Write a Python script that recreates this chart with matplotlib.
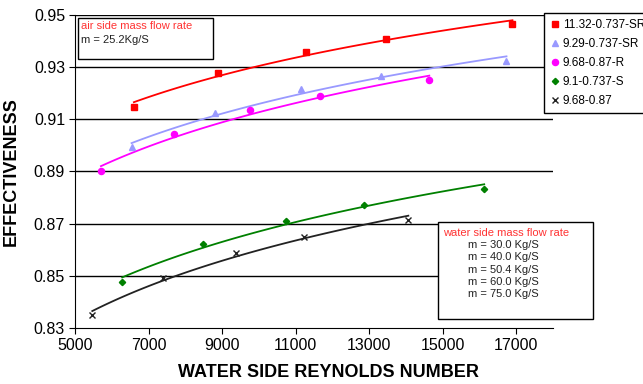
import numpy as np
import matplotlib.pyplot as plt
from matplotlib.patches import Rectangle

plt.rcParams['font.family'] = ['Liberation Sans', 'DejaVu Sans']

# Reynolds number vs effectiveness for each tube configuration
labels = ['11.32-0.737-SR', '9.29-0.737-SR', '9.68-0.87-R', '9.1-0.737-S', '9.68-0.87']
re_sr1132 = [6590, 8880, 11264, 13465, 16897]
eff_sr1132 = [0.9149, 0.9279, 0.9359, 0.9408, 0.9464]
re_sr929 = [6527, 8791, 11147, 13329, 16734]
eff_sr929 = [0.8992, 0.9126, 0.9215, 0.9266, 0.9324]
re_r968 = [5693, 7685, 9742, 11644, 14633]
eff_r968 = [0.8903, 0.9044, 0.9135, 0.9188, 0.9250]
re_s91 = [6272, 8473, 10739, 12848, 16128]
eff_s91 = [0.8477, 0.8621, 0.8712, 0.8772, 0.8833]
re_968 = [5457, 7387, 9361, 11217, 14062]
eff_968 = [0.8351, 0.8491, 0.8589, 0.8648, 0.8715]

water_flows = ['30.0', '40.0', '50.4', '60.0', '75.0']
xticks = [5000, 7000, 9000, 11000, 13000, 15000, 17000]
yticks = [0.83, 0.85, 0.87, 0.89, 0.91, 0.93, 0.95]

series = [
    (re_sr1132, eff_sr1132, '#ff0000', 's', 4.6),
    (re_sr929, eff_sr929, '#9999ff', '^', 4.2),
    (re_r968, eff_r968, '#ff00ff', 'o', 4.4),
    (re_s91, eff_s91, '#008000', 'D', 3.2),
    (re_968, eff_968, '#222222', 'x', 5),
]

fig = plt.figure(figsize=(6.43, 3.84), dpi=100)
ax = fig.add_axes([0.1174, 0.1458, 0.7426, 0.8152])

for (x, y, c, m, ms), lab in zip(series, labels):
    x = np.array(x, dtype=float)
    y = np.array(y, dtype=float)
    # logarithmic trendline through the points
    k, b = np.polyfit(np.log(x), y, 1)
    xs = np.linspace(x.min(), x.max(), 100)
    ax.plot(xs, k * np.log(xs) + b, color=c, lw=1.3, zorder=3)
    ax.plot(x, y, ls='none', marker=m, color=c, ms=ms, mew=1.0,
            label=lab, zorder=4)

ax.set_xlim(5000, 18000)
ax.set_ylim(0.83, 0.95)
ax.set_xticks(xticks)
ax.set_yticks(yticks)
ax.set_yticklabels([f'{v:.2f}' for v in yticks])
ax.tick_params(direction='out', length=4, labelsize=11.5, color='black')
for s in ['top', 'right']:
    ax.spines[s].set_visible(False)
for v in yticks[1:]:
    ax.axhline(v, color='black', lw=1.0, zorder=1)

ax.set_xlabel('WATER SIDE REYNOLDS NUMBER', fontsize=13, fontweight='bold')
ax.xaxis.set_label_coords(0.53, -0.115)
ax.set_ylabel('EFFECTIVENESS', fontsize=13, fontweight='bold')
ax.yaxis.set_label_coords(-0.117, 0.5)

leg = fig.legend(loc='upper left', bbox_to_anchor=(544 / 643, 1 - 13 / 384),
                 numpoints=1, fontsize=8.5, frameon=True, fancybox=False,
                 handlelength=0.8, handletextpad=0.3, borderpad=0.5,
                 labelspacing=0.6, borderaxespad=0)
leg.get_frame().set_edgecolor('black')
leg.get_frame().set_linewidth(1.0)
leg.get_frame().set_alpha(1)

# air side note
fig.patches.append(Rectangle((78 / 643, 1 - 59 / 384), 135 / 643, 41 / 384,
                             transform=fig.transFigure, fill=True, fc='white',
                             ec='black', lw=1.0, zorder=5))
fig.text(81 / 643, 1 - 26 / 384, 'air side mass flow rate', color='#ff3333',
         fontsize=8, va='center', zorder=6)
fig.text(81 / 643, 1 - 40 / 384, 'm = 25.2Kg/S', color='#222222',
         fontsize=8, va='center', zorder=6)

# water side note
fig.patches.append(Rectangle((438 / 643, 1 - 319 / 384), 155 / 643, 97 / 384,
                             transform=fig.transFigure, fill=True, fc='white',
                             ec='black', lw=1.0, zorder=5))
fig.text(443 / 643, 1 - 233 / 384, 'water side mass flow rate', color='#ff3333',
         fontsize=8, va='center', zorder=6)
for i, w in enumerate(water_flows):
    fig.text(468 / 643, 1 - (245 + 12.3 * i) / 384, f'm = {w} Kg/S',
             color='#222222', fontsize=8, va='center', zorder=6)

fig.savefig('out.png', dpi=100)
